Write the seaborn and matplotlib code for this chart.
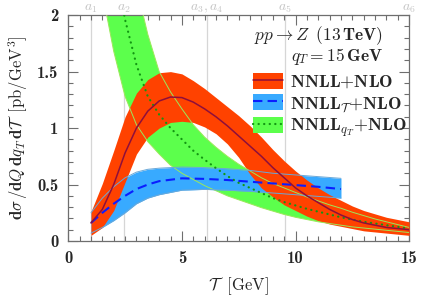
import numpy as np
import pandas as pd
import matplotlib
matplotlib.use("Agg")
import matplotlib.pyplot as plt
import seaborn as sns
from matplotlib.patches import Patch
from matplotlib.lines import Line2D
from matplotlib.transforms import blended_transform_factory

# ---------------- data ----------------
tau_red = [1.0, 1.5, 2.0, 2.5, 3.0, 3.5, 4.0, 4.5, 5.0, 5.5, 6.0, 6.5, 7.0, 7.5, 8.0,
           8.5, 9.0, 9.5, 10.0, 10.5, 11.0, 11.5, 12.0, 12.5, 13.0, 13.5, 14.0, 14.5, 15.0]
red_mid = [0.16, 0.28, 0.50, 0.78, 1.00, 1.15, 1.24, 1.275, 1.27, 1.23, 1.17, 1.10, 1.02, 0.93, 0.84,
           0.75, 0.65, 0.56, 0.47, 0.40, 0.34, 0.28, 0.23, 0.19, 0.16, 0.14, 0.12, 0.11, 0.10]
red_hi = [0.26, 0.51, 0.80, 1.10, 1.31, 1.43, 1.49, 1.50, 1.48, 1.42, 1.35, 1.27, 1.19, 1.11, 1.02,
          0.92, 0.81, 0.71, 0.62, 0.54, 0.47, 0.41, 0.36, 0.31, 0.27, 0.24, 0.21, 0.19, 0.17]
red_lo = [0.05, 0.12, 0.27, 0.52, 0.77, 0.92, 1.00, 1.05, 1.06, 1.05, 1.01, 0.95, 0.86, 0.74, 0.59,
          0.47, 0.39, 0.32, 0.27, 0.22, 0.18, 0.15, 0.13, 0.11, 0.09, 0.08, 0.07, 0.06, 0.05]

tau_blue = [1.0, 1.5, 2.0, 2.5, 3.0, 3.5, 4.0, 5.0, 6.0, 7.0, 8.0, 9.0, 10.0, 11.0, 12.0]
blue_mid = [0.16, 0.25, 0.33, 0.40, 0.46, 0.50, 0.53, 0.555, 0.55, 0.54, 0.525, 0.51, 0.495, 0.48, 0.46]
blue_hi = [0.25, 0.38, 0.48, 0.56, 0.61, 0.635, 0.645, 0.655, 0.65, 0.64, 0.625, 0.60, 0.585, 0.57, 0.555]
blue_lo = [0.07, 0.12, 0.18, 0.25, 0.33, 0.38, 0.41, 0.45, 0.457, 0.45, 0.44, 0.425, 0.41, 0.395, 0.38]

tau_green = [1.5, 2.0, 2.5, 3.0, 3.5, 4.0, 4.5, 5.0, 5.5, 6.0, 6.5, 7.0, 7.5, 8.0,
             8.5, 9.0, 9.5, 10.0, 10.5, 11.0, 11.5, 12.0, 12.5, 13.0, 13.5, 14.0, 14.5, 15.0]
green_mid = [3.1, 2.5, 1.96, 1.56, 1.28, 1.12, 1.00, 0.90, 0.80, 0.72, 0.645, 0.575, 0.515, 0.47,
             0.425, 0.38, 0.345, 0.315, 0.285, 0.26, 0.235, 0.21, 0.19, 0.17, 0.155, 0.14, 0.125, 0.11]
green_hi = [4.5, 3.6, 2.9, 2.25, 1.83, 1.50, 1.32, 1.17, 1.03, 0.92, 0.83, 0.75, 0.68, 0.62,
            0.56, 0.51, 0.47, 0.43, 0.39, 0.355, 0.32, 0.29, 0.255, 0.225, 0.195, 0.17, 0.145, 0.12]
green_lo = [2.2, 1.68, 1.28, 1.03, 0.88, 0.77, 0.67, 0.60, 0.545, 0.49, 0.445, 0.40, 0.365, 0.33,
            0.295, 0.265, 0.235, 0.21, 0.19, 0.17, 0.155, 0.14, 0.125, 0.115, 0.105, 0.095, 0.085, 0.075]

labels = [r"$\mathbf{NNLL{+}NLO}$",
          r"$\mathbf{NNLL}_{\mathcal{T}}\mathbf{{+}NLO}$",
          r"$\mathbf{NNLL}_{q_T}\mathbf{{+}NLO}$"]
top_pos = [1.0, 2.45, 6.1, 9.55, 15.0]
top_labels = [r"$a_1$", r"$a_2$", r"$a_3, a_4$", r"$a_5$", r"$a_6$"]
xticks = [0, 5, 10, 15]
yticks = [0, 0.5, 1, 1.5, 2]
ytick_labels = ["0", "0.5", "1", "1.5", "2"]

# ---------------- style ----------------
sns.set_style("ticks")
plt.rcParams["mathtext.fontset"] = "cm"
plt.rcParams["font.family"] = ["DejaVu Serif"]

RED_FILL = "#ff4200"
RED_LINE = "#8e0f3c"
BLUE_FILL = "#38aaff"
BLUE_LINE = "#0a1eff"
BLUE_EDGE = "#6aa8d8"
GREEN_FILL = "#5cff4c"
GREEN_LINE = "#129612"
GREEN_EDGE = "#9be85a"
FRAME = "#6e6e6e"

fig = plt.figure(figsize=(4.24, 3.03), dpi=100)
ax = fig.add_axes([0.161, 0.2046, 0.804, 0.7454])

for xp in top_pos[:-1]:
    ax.axvline(xp, color="#d6d6d6", lw=0.9, zorder=0)

ax.fill_between(tau_green, green_lo, green_hi, color=GREEN_FILL, lw=0, zorder=1)
ax.fill_between(tau_blue, blue_lo, blue_hi, color=BLUE_FILL, lw=0, zorder=2)
ax.fill_between(tau_red, red_lo, red_hi, color=RED_FILL, lw=0, zorder=3)

for arr in (green_hi, green_lo):
    sns.lineplot(x=tau_green, y=arr, ax=ax, color=GREEN_EDGE, lw=0.7, zorder=4)
for arr in (blue_hi, blue_lo):
    sns.lineplot(x=tau_blue, y=arr, ax=ax, color=BLUE_EDGE, lw=0.7, zorder=4)

sns.lineplot(x=tau_green, y=green_mid, ax=ax, color=GREEN_LINE, lw=1.6,
             linestyle=(0, (0.1, 2.4)), dash_capstyle="round", zorder=5)
sns.lineplot(x=tau_blue, y=blue_mid, ax=ax, color=BLUE_LINE, lw=1.5,
             linestyle=(0, (4.5, 2.5)), zorder=6)
sns.lineplot(x=tau_red, y=red_mid, ax=ax, color=RED_LINE, lw=1.1, zorder=7)

ax.set_xlim(0, 15)
ax.set_ylim(0, 2)
ax.set_xticks(xticks)
ax.set_xticklabels([str(t) for t in xticks], fontfamily="cmb10", fontsize=12)
ax.set_yticks(yticks)
ax.set_yticklabels(ytick_labels, fontfamily="cmb10", fontsize=12)
ax.set_xticks(np.arange(0, 15.01, 0.5), minor=True)
ax.set_yticks(np.arange(0, 2.001, 0.1), minor=True)
ax.tick_params(which="both", direction="in", top=True, right=True, color=FRAME, width=0.8)
ax.tick_params(which="major", length=7, pad=7)
ax.tick_params(which="minor", length=3.5)
for s in ax.spines.values():
    s.set_color(FRAME)
    s.set_linewidth(0.9)

ax.set_xlabel(r"$\mathcal{T}\ \ \mathrm{[GeV]}$", fontsize=12, labelpad=7)
ax.set_ylabel(r"$\mathbf{d}\sigma\,/\mathbf{d}Q\,\mathbf{d}q_{T}\,\mathbf{d}\mathcal{T}\;\;\mathrm{[pb/GeV^3]}$",
              fontsize=12, labelpad=5)

trans = blended_transform_factory(ax.transData, ax.transAxes)
for xp, lab in zip(top_pos, top_labels):
    ax.text(xp, 1.032, lab, transform=trans, ha="center", va="center",
            color="#c4c4c4", fontsize=10)

ax.text(0.922, 0.91, r"$pp \rightarrow Z\;\;\mathbf{(13\,TeV)}$", transform=ax.transAxes,
        ha="right", va="center", fontsize=12.5)
ax.text(0.922, 0.815, r"$q_T = \mathbf{15\,GeV}$", transform=ax.transAxes,
        ha="right", va="center", fontsize=12.5)

handles = [
    (Patch(facecolor=RED_FILL, edgecolor="none"), Line2D([], [], color=RED_LINE, lw=1.1)),
    (Patch(facecolor=BLUE_FILL, edgecolor="none"),
     Line2D([], [], color=BLUE_LINE, lw=1.5, linestyle=(0, (4.5, 2.5)))),
    (Patch(facecolor=GREEN_FILL, edgecolor="none"),
     Line2D([], [], color=GREEN_LINE, lw=1.6, linestyle=(0, (0.1, 2.4)), dash_capstyle="round")),
]
ax.legend(handles, labels, loc="upper right", bbox_to_anchor=(0.995, 0.745), frameon=False,
          fontsize=13, handlelength=1.7, handleheight=1.0, handletextpad=0.4,
          labelspacing=0.18, borderpad=0, borderaxespad=0)

fig.savefig("out.png", dpi=100)
